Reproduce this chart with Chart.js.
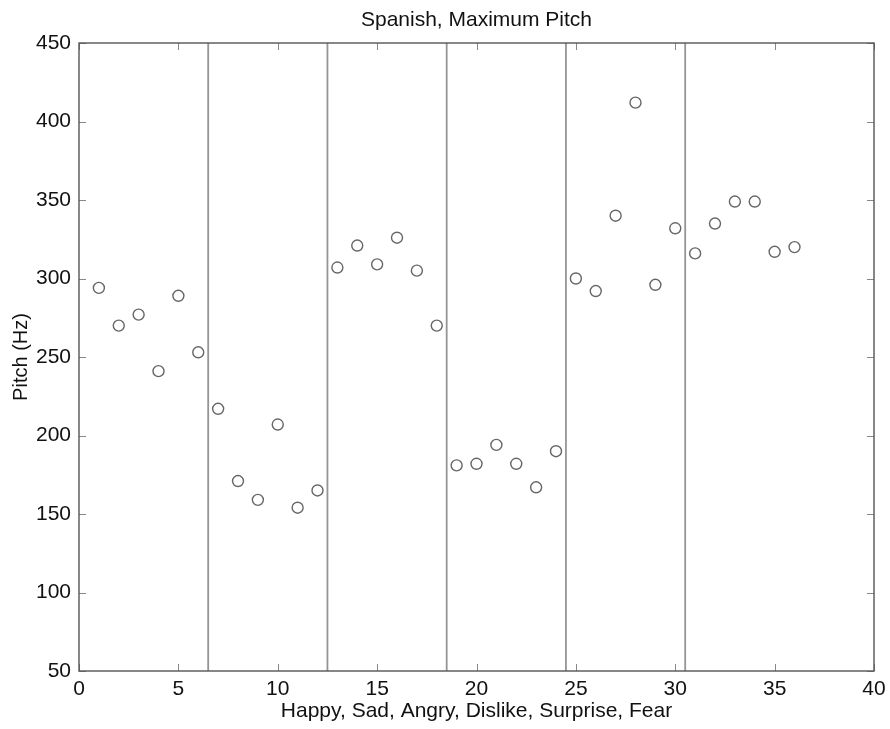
<!DOCTYPE html>
<html>
<head>
<meta charset="utf-8">
<script src="https://cdn.jsdelivr.net/npm/chart.js@4/dist/chart.umd.min.js"></script>
<style>
  html, body { margin: 0; padding: 0; background: #fff; }
  #wrap { width: 890px; height: 729px; }
</style>
</head>
<body>
<div id="wrap"><canvas id="chart-pitch" width="890" height="729"></canvas></div>
<script>
// data
const trials = [1, 2, 3, 4, 5, 6, 7, 8, 9, 10, 11, 12, 13, 14, 15, 16, 17, 18,
                19, 20, 21, 22, 23, 24, 25, 26, 27, 28, 29, 30, 31, 32, 33, 34, 35, 36];
const max_pitch = [294, 270, 277, 241, 289, 253, 217, 171, 159, 207, 154, 165,
                   307, 321, 309, 326, 305, 270, 181, 182, 194, 182, 167, 190,
                   300, 292, 340, 412, 296, 332, 316, 335, 349, 349, 317, 320];
// boundaries between emotions
const separators = [6.5, 12.5, 18.5, 24.5, 30.5];
const x_range = [0, 40];
const y_range = [50, 450];

const FONT = '"Liberation Sans", Arial, Helvetica, sans-serif';

// matlab-like box with inward ticks + emotion separators
const frame_plugin = {
  id: 'frame',
  beforeDatasetsDraw(chart) {
    const { ctx, chartArea: a, scales: { x } } = chart;
    ctx.save();
    ctx.strokeStyle = '#959595';
    ctx.lineWidth = 1.8;
    separators.forEach(v => {
      const px = x.getPixelForValue(v);
      ctx.beginPath();
      ctx.moveTo(px, a.top);
      ctx.lineTo(px, a.bottom);
      ctx.stroke();
    });
    ctx.restore();
  },
  afterDatasetsDraw(chart) {
    const { ctx, chartArea: a, scales: { x, y } } = chart;
    const tl = 7;
    ctx.save();
    ctx.strokeStyle = '#888';
    ctx.lineWidth = 1;
    x.ticks.forEach(t => {
      const px = Math.round(x.getPixelForValue(t.value)) + 0.5;
      ctx.beginPath();
      ctx.moveTo(px, a.bottom); ctx.lineTo(px, a.bottom - tl);
      ctx.moveTo(px, a.top); ctx.lineTo(px, a.top + tl);
      ctx.stroke();
    });
    y.ticks.forEach(t => {
      const py = Math.round(y.getPixelForValue(t.value)) + 0.5;
      ctx.beginPath();
      ctx.moveTo(a.left, py); ctx.lineTo(a.left + tl, py);
      ctx.moveTo(a.right, py); ctx.lineTo(a.right - tl, py);
      ctx.stroke();
    });
    ctx.strokeStyle = '#555';
    ctx.lineWidth = 1.4;
    ctx.strokeRect(a.left, a.top, a.right - a.left, a.bottom - a.top);
    ctx.restore();
  }
};

function init_chart() {
  const ctx = document.getElementById('chart-pitch').getContext('2d');
  return new Chart(ctx, {
    type: 'scatter',
    data: {
      datasets: [{
        data: trials.map((t, i) => ({ x: t, y: max_pitch[i] })),
        pointStyle: 'circle',
        pointRadius: 5.5,
        pointBorderWidth: 1.4,
        pointBorderColor: '#666',
        pointBackgroundColor: 'rgba(0,0,0,0)'
      }]
    },
    options: {
      responsive: false,
      animation: false,
      devicePixelRatio: 1,
      layout: { padding: { left: 0, right: 16, top: 0, bottom: 0 } },
      plugins: {
        legend: { display: false },
        tooltip: { enabled: false },
        title: {
          display: true,
          fullSize: false,
          text: 'Spanish, Maximum Pitch',
          color: '#111',
          font: { family: FONT, size: 21, weight: 'normal' },
          padding: { top: 7.4, bottom: 10.4 }
        }
      },
      scales: {
        x: {
          type: 'linear',
          min: x_range[0], max: x_range[1],
          afterFit: s => { s.height = 58; s.paddingLeft = 0; s.paddingRight = 0; },
          grid: { display: false, drawTicks: false },
          border: { display: false },
          ticks: {
            stepSize: 5, autoSkip: false, maxRotation: 0, padding: 6,
            color: '#111', font: { family: FONT, size: 21 }
          },
          title: {
            display: true,
            text: 'Happy, Sad, Angry, Dislike, Surprise, Fear',
            color: '#111',
            font: { family: FONT, size: 21 },
            padding: { top: 0, bottom: 4.7 }
          }
        },
        y: {
          type: 'linear',
          min: y_range[0], max: y_range[1],
          afterFit: s => { s.width = 79; },
          grid: { display: false, drawTicks: false },
          border: { display: false },
          ticks: {
            stepSize: 50, autoSkip: false, padding: 8,
            color: '#111', font: { family: FONT, size: 21 }
          },
          title: {
            display: true,
            text: 'Pitch (Hz)',
            color: '#111',
            font: { family: FONT, size: 20 },
            padding: { top: 9, bottom: 0 }
          }
        }
      }
    },
    plugins: [frame_plugin]
  });
}

document.addEventListener('DOMContentLoaded', () => {
  try {
    init_chart();
  } catch (e) {
    console.error('[pitch] init failed', e);
  }
});
</script>
</body>
</html>
